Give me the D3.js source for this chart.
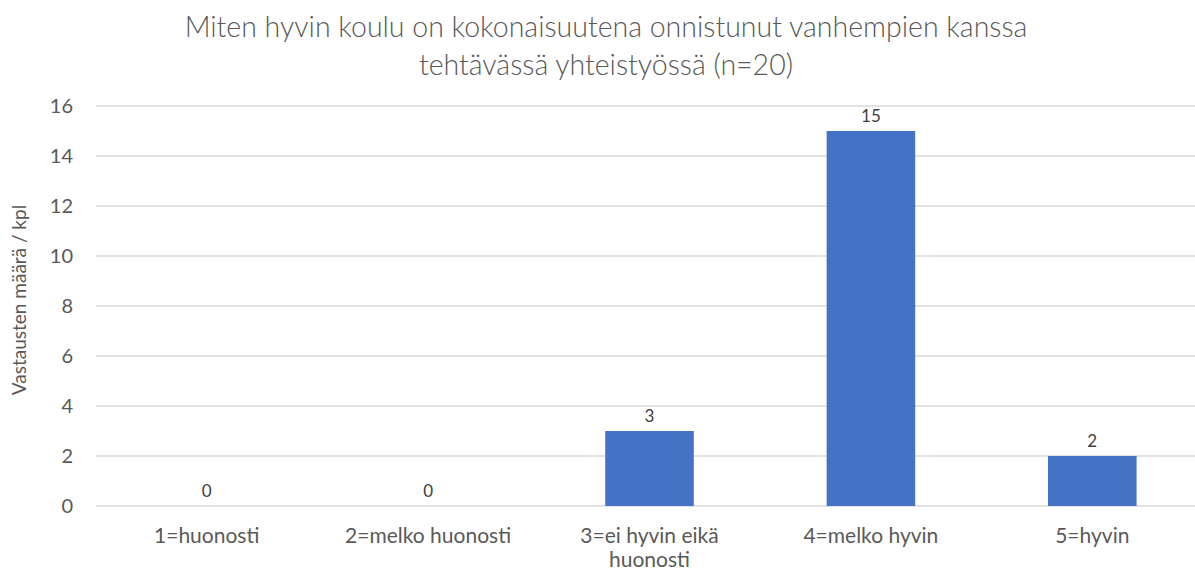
<!DOCTYPE html>
<html>
<head>
<meta charset="utf-8">
<script src="https://cdn.jsdelivr.net/npm/d3@7"></script>
<style>
  body { margin: 0; background: #fff; }
  svg { font-family: Lato, "Open Sans", sans-serif; }
</style>
</head>
<body>
<div id="chart"></div>
<script>
const categories = [["1=huonosti"], ["2=melko huonosti"], ["3=ei hyvin eikä", "huonosti"], ["4=melko hyvin"], ["5=hyvin"]];
const values = [0, 0, 3, 15, 2];
const yTicks = [0, 2, 4, 6, 8, 10, 12, 14, 16];
const titleLines = ["Miten hyvin koulu on kokonaisuutena onnistunut vanhempien kanssa", "tehtävässä yhteistyössä (n=20)"];
const yTitle = "Vastausten määrä / kpl";

const width = 1195, height = 573;
const svg = d3.select("#chart").append("svg")
    .attr("width", width)
    .attr("height", height);

const x = d3.scaleBand()
    .domain(d3.range(values.length))
    .range([96, 1203])
    .paddingInner(0.6)
    .paddingOuter(0.3);

const y = d3.scaleLinear().domain([0, 16]).range([506, 106]);

// gridlines
svg.append("g").selectAll("line")
    .data(yTicks)
    .enter().append("line")
    .attr("x1", 96).attr("x2", width)
    .attr("y1", d => y(d)).attr("y2", d => y(d))
    .attr("stroke", "#d9d9d9")
    .attr("stroke-width", 1.3);

// y tick labels
svg.append("g").selectAll("text")
    .data(yTicks)
    .enter().append("text")
    .attr("x", 73)
    .attr("y", d => y(d) + 7)
    .attr("text-anchor", "end")
    .attr("font-size", 20)
    .attr("fill", "#595959")
    .text(d => d);

// bars
svg.append("g").selectAll("rect")
    .data(values)
    .enter().append("rect")
    .attr("x", (d, i) => x(i))
    .attr("y", d => y(d))
    .attr("width", x.bandwidth())
    .attr("height", d => y(0) - y(d))
    .attr("fill", "#4472c4");

// data labels
svg.append("g").selectAll("text")
    .data(values)
    .enter().append("text")
    .attr("x", (d, i) => x(i) + x.bandwidth() / 2)
    .attr("y", d => y(d) - 9)
    .attr("text-anchor", "middle")
    .attr("font-size", 17)
    .attr("fill", "#404040")
    .text(d => d);

// category labels
const cat = svg.append("g").selectAll("text")
    .data(categories)
    .enter().append("text")
    .attr("x", (d, i) => x(i) + x.bandwidth() / 2)
    .attr("y", 543)
    .attr("text-anchor", "middle")
    .attr("font-size", 21)
    .attr("fill", "#595959");
cat.selectAll("tspan")
    .data(d => d)
    .enter().append("tspan")
    .attr("x", function() { return this.parentNode.getAttribute("x"); })
    .attr("dy", (d, i) => i === 0 ? 0 : 24)
    .text(d => d);

// y axis title
svg.append("text")
    .attr("transform", "translate(26,300) rotate(-90)")
    .attr("text-anchor", "middle")
    .attr("font-size", 19)
    .attr("fill", "#595959")
    .text(yTitle);

// title
svg.append("g").selectAll("text")
    .data(titleLines)
    .enter().append("text")
    .attr("x", 606)
    .attr("y", (d, i) => 37 + i * 38)
    .attr("text-anchor", "middle")
    .attr("font-size", 28.5)
    .attr("font-weight", 300)
    .attr("fill", "#595959")
    .text(d => d);
</script>
</body>
</html>
